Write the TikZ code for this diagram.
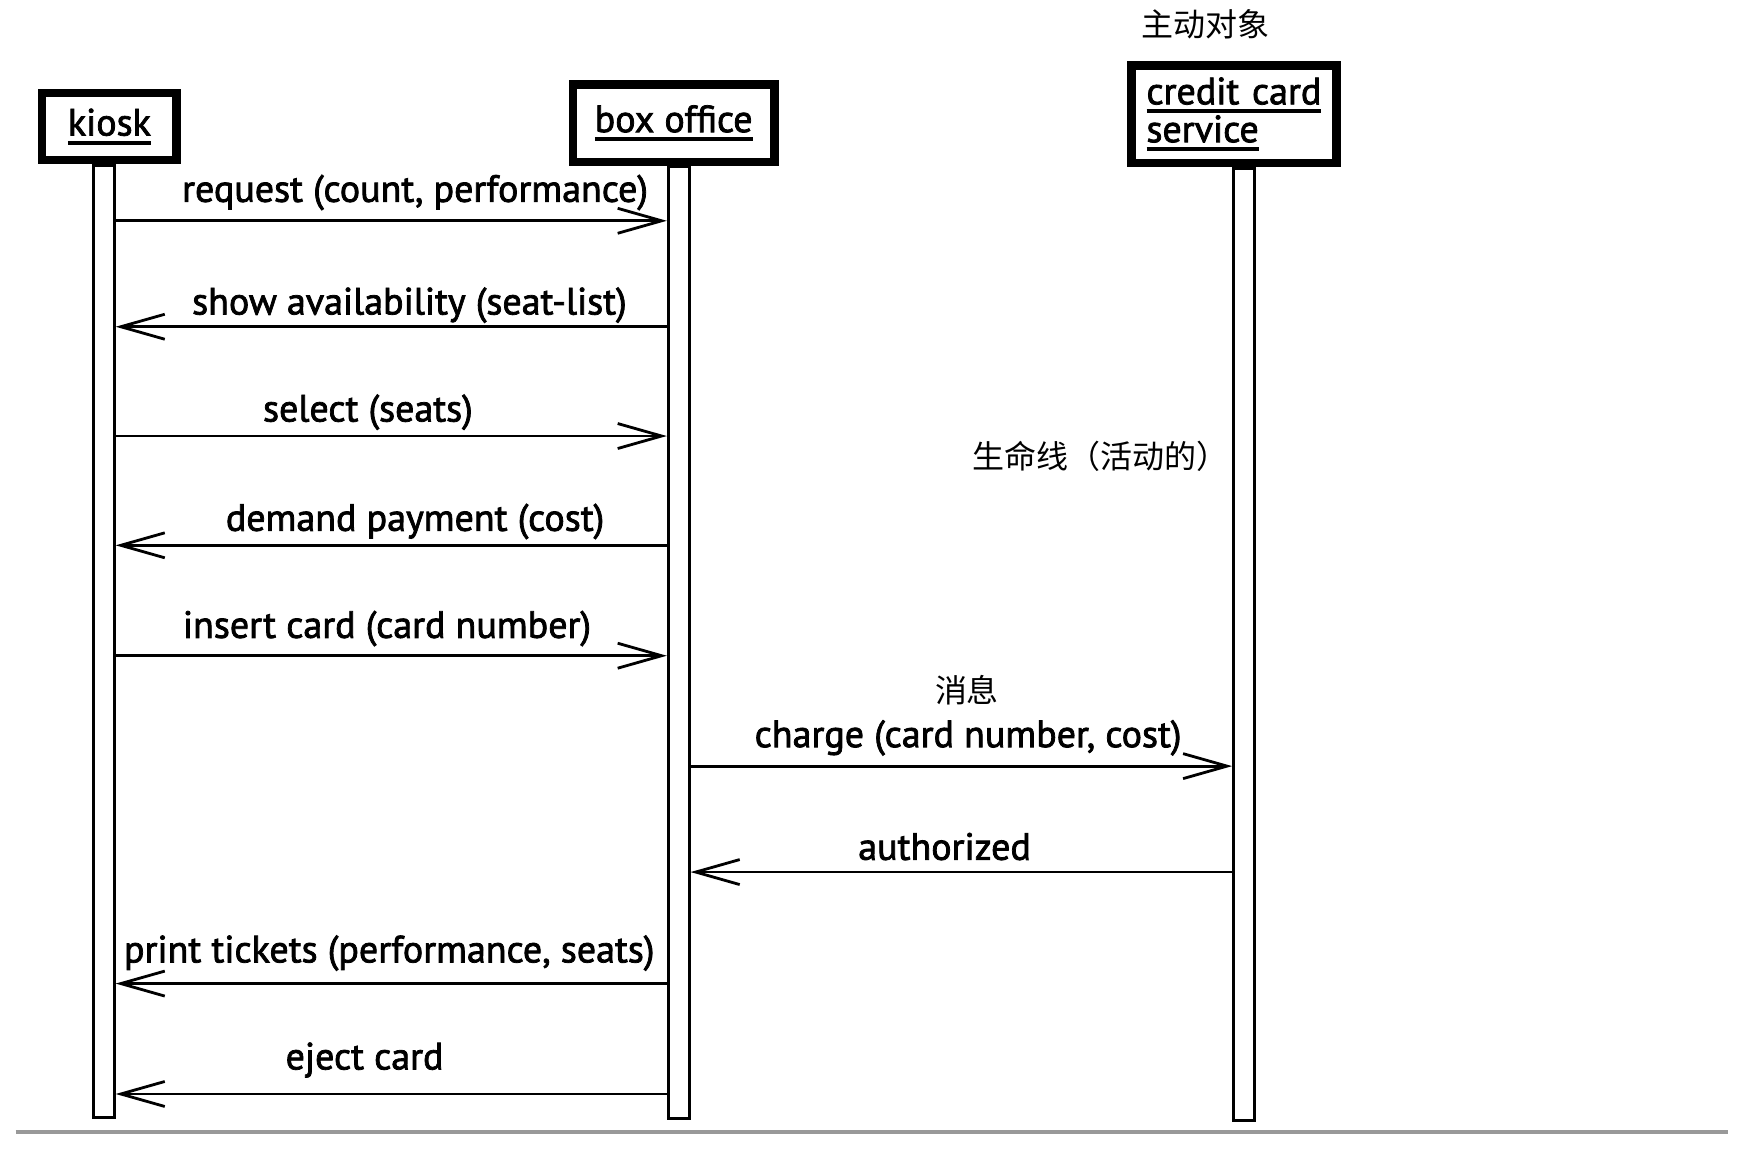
\documentclass[tikz,border=0pt]{standalone}
\usepackage{fontspec}
\setmainfont{PT Sans}[FakeBold=2]
\newfontfamily\cjk{Noto Sans CJK SC}
\usetikzlibrary{arrows.meta}
\newcommand{\objname}[1]{\leavevmode\setbox0=\hbox{#1}\rlap{\rule[-4.5pt]{\wd0}{2pt}}\box0}
\tikzset{
	obj/.style={draw,line width=4.3pt,inner sep=0pt,font=\fontsize{19}{17}\selectfont},
	life/.style={draw,fill=white,line width=1.4pt,minimum width=10.5pt,anchor=north,inner sep=0pt},
	msg/.style={line width=1.4pt,-{Straight Barb[length=22pt,width=12.5pt]}},
	lbl/.style={anchor=base,inner sep=0pt,font=\fontsize{19}{19}\selectfont},
	note/.style={inner sep=0pt,font=\cjk\fontsize{16}{16}\selectfont}
}
\begin{document}
\begin{tikzpicture}[x=0.561pt,y=-0.5577pt]
	\useasboundingbox (0,0) rectangle (1560,1040);

	\node [life,minimum height=476pt] (kioskL) at (92.5,147) {};
	\node [life,minimum height=476pt] (officeL) at (605,148) {};
	\node [life,minimum height=476pt] (cardL) at (1109,150) {};

	\node [obj,minimum width=67.2pt,minimum height=33.4pt] (kiosk) at (97.5,113.5) {\objname{kiosk}};
	\node [obj,minimum width=100.6pt,minimum height=38.6pt] (office) at (600.5,110.5) {\objname{box office}};
	\node [obj,minimum width=102.3pt,minimum height=48.7pt,align=left,text width=87.5pt] (card) at (1100,102.5) {\objname{credit card}\\\objname{service}};

	\node [note] (active) at (1075,22) {主动对象};
	\node [note] (lifeline) at (981,409) {生命线（活动的）};
	\node [note] (message) at (862,619) {消息};

	\draw [msg] (kioskL.east |- 0,198) -- (officeL.west |- 0,198);
	\draw [msg] (officeL.west |- 0,293) -- (kioskL.east |- 0,293);
	\draw [msg] (kioskL.east |- 0,391) -- (officeL.west |- 0,391);
	\draw [msg] (officeL.west |- 0,489) -- (kioskL.east |- 0,489);
	\draw [msg] (kioskL.east |- 0,588) -- (officeL.west |- 0,588);
	\draw [msg] (officeL.east |- 0,687) -- (cardL.west |- 0,687);
	\draw [msg] (cardL.west |- 0,782) -- (officeL.east |- 0,782);
	\draw [msg] (officeL.west |- 0,882) -- (kioskL.east |- 0,882);
	\draw [msg] (officeL.west |- 0,981) -- (kioskL.east |- 0,981);

	\node [lbl] (m1) at (370,181) {request (count, performance)};
	\node [lbl] (m2) at (365,282) {show availability (seat-list)};
	\node [lbl] (m3) at (328,378) {select (seats)};
	\node [lbl] (m4) at (370,476) {demand payment (cost)};
	\node [lbl] (m5) at (345,572) {insert card (card number)};
	\node [lbl] (m6) at (863,670) {charge (card number, cost)};
	\node [lbl] (m7) at (842,771) {authorized};
	\node [lbl] (m8) at (347,863) {print tickets (performance, seats)};
	\node [lbl] (m9) at (325,959) {eject card};

	\coordinate (ruleL) at (14,1015);
	\coordinate (ruleR) at (1540,1015);
	\draw [gray!80,line width=1.6pt] (ruleL) -- (ruleR);
\end{tikzpicture}
\end{document}
